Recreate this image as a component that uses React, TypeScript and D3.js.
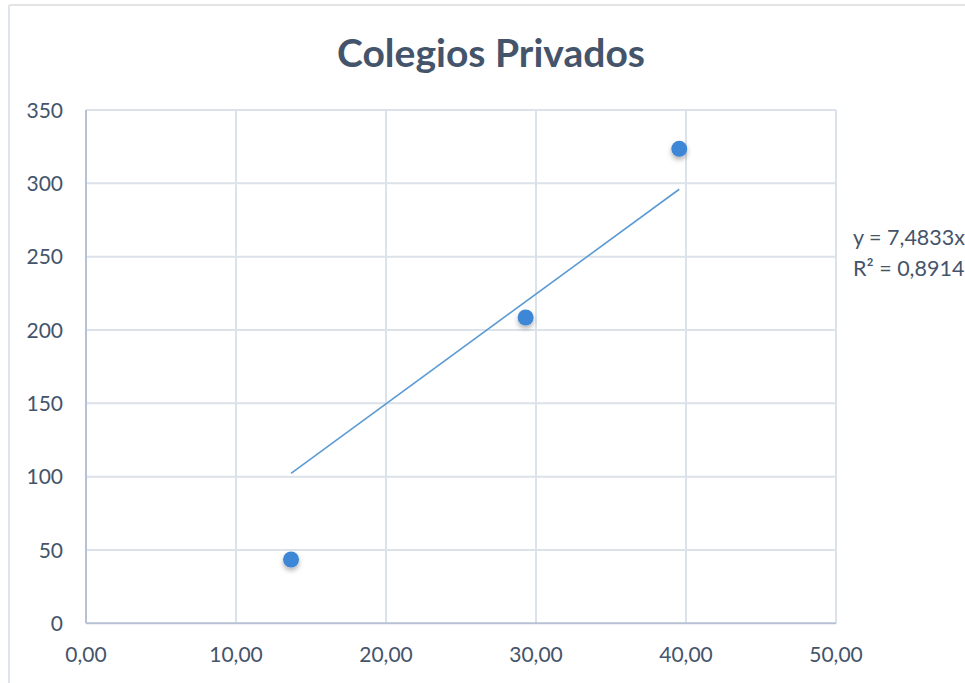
import React from "react";
import * as d3 from "d3";

const xValues = [13.67, 29.31, 39.55];
const yValues = [43.5, 208.5, 323.5];
const xTicks = [0, 10, 20, 30, 40, 50];
const yTicks = [0, 50, 100, 150, 200, 250, 300, 350];
const title = "Colegios Privados";
const slope = 7.4833;
const eqLabel = "y = 7,4833x";
const r2Label = "R² = 0,8914";

const W = 965;
const H = 683;
const FONT = "Lato, 'Open Sans', sans-serif";
const TEXT = "#44546A";

export default function App() {
  const x = d3.scaleLinear().domain([0, 50]).range([86, 836]);
  const y = d3.scaleLinear().domain([0, 350]).range([623.3, 110]);
  const fmtX = (v: number) => v.toFixed(2).replace(".", ",");
  const xMin = d3.min(xValues) as number;
  const xMax = d3.max(xValues) as number;
  const line = d3.line<number>().x((d) => x(d)).y((d) => y(slope * d));

  return (
    <svg
      width={W}
      height={H}
      style={{ position: "absolute", left: 0, top: 0, background: "#fff" }}
    >
      <defs>
        <filter id="sh" x="-60%" y="-60%" width="220%" height="240%">
          <feDropShadow dx="0" dy="3" stdDeviation="2.5" floodColor="#000" floodOpacity="0.3" />
        </filter>
      </defs>
      <rect x={0} y={0} width={W} height={H} fill="#fff" />
      <line x1={9} x2={W} y1={5} y2={5} stroke="#E4E4E4" strokeWidth={2} />
      <line x1={9} x2={9} y1={5} y2={H} stroke="#DFE3EC" strokeWidth={2} />

      <text
        x={491}
        y={67}
        textAnchor="middle"
        fontFamily={FONT}
        fontWeight={700}
        fontSize={39}
        fill={TEXT}
        textLength={308}
        lengthAdjust="spacingAndGlyphs"
      >
        {title}
      </text>

      {yTicks.filter((t) => t > 0).map((t) => (
        <line key={"gy" + t} x1={x(0)} x2={x(50)} y1={y(t)} y2={y(t)} stroke="#DCE2EA" strokeWidth={2} />
      ))}
      {xTicks.filter((t) => t > 0).map((t) => (
        <line key={"gx" + t} x1={x(t)} x2={x(t)} y1={y(0)} y2={y(350)} stroke="#DCE2EA" strokeWidth={2} />
      ))}
      <line x1={x(0)} x2={x(0)} y1={y(0)} y2={y(350)} stroke="#B6C2D4" strokeWidth={2} />
      <line x1={x(0)} x2={x(50)} y1={y(0)} y2={y(0)} stroke="#B6C2D4" strokeWidth={2} />

      {yTicks.map((t) => (
        <text
          key={"ly" + t}
          x={63}
          y={y(t)}
          dy="0.36em"
          textAnchor="end"
          fontFamily={FONT}
          fontSize={21}
          fill={TEXT}
        >
          {t}
        </text>
      ))}
      {xTicks.map((t) => (
        <text
          key={"lx" + t}
          x={x(t)}
          y={662}
          textAnchor="middle"
          fontFamily={FONT}
          fontSize={21}
          fill={TEXT}
        >
          {fmtX(t)}
        </text>
      ))}

      <path d={line([xMin, xMax]) || ""} fill="none" stroke="#5B9BD5" strokeWidth={1.6} />

      {xValues.map((v, i) => (
        <circle key={"p" + i} cx={x(v)} cy={y(yValues[i])} r={8} fill="#3D87D6" filter="url(#sh)" />
      ))}

      <text x={853} y={245} fontFamily={FONT} fontSize={21.5} fill={TEXT}>
        {eqLabel}
      </text>
      <text x={853} y={276} fontFamily={FONT} fontSize={21.5} fill={TEXT}>
        {r2Label}
      </text>
    </svg>
  );
}
